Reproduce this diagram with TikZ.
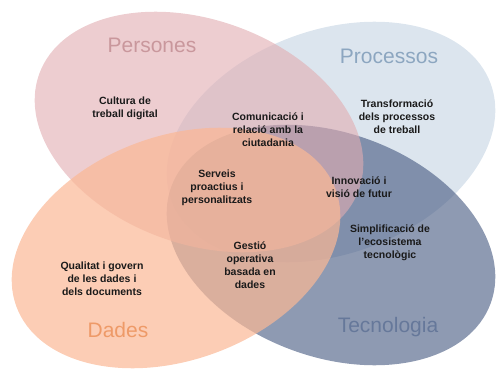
\documentclass[tikz,border=0pt]{standalone}
\usepackage{fontspec}
\setmainfont{Liberation Sans}
\definecolor{perscol}{RGB}{225,172,177}
\definecolor{proccol}{RGB}{197,212,227}
\definecolor{dadecol}{RGB}{251,184,149}
\definecolor{tecncol}{RGB}{67,87,127}
\definecolor{persink}{HTML}{C9979C}
\definecolor{procink}{HTML}{8CA6C0}
\definecolor{dadeink}{HTML}{EE9A68}
\definecolor{tecnink}{HTML}{66789A}
\definecolor{ink}{HTML}{1A1A1A}
\begin{document}
\begin{tikzpicture}[x=1pt,y=-1pt,
    blob/.style={fill opacity=0.6},
    title/.style={font=\fontsize{21}{24}\selectfont},
    lbl/.style={font=\fontsize{10.5}{13}\selectfont\bfseries,color=ink,align=center}]
  \useasboundingbox (0,0) rectangle (499,372);
  % four tilted sets, drawn bottom to top
  \fill[proccol,blob] (331,142) ellipse [x radius=170pt,y radius=112pt,rotate=20];
  \fill[tecncol,blob] (331,245) ellipse [x radius=170pt,y radius=112pt,rotate=-20];
  \fill[perscol,blob] (199,132) ellipse [x radius=170pt,y radius=112pt,rotate=-20];
  \fill[dadecol,blob,fill opacity=0.7] (176,248) ellipse [x radius=170pt,y radius=112pt,rotate=20];
  % set titles
  \node[title,color=persink] (persones) at (152,45) {Persones};
  \node[title,color=procink] (processos) at (389,56) {Processos};
  \node[title,color=dadeink] (dades) at (118,330) {Dades};
  \node[title,color=tecnink] (tecnologia) at (388,327) {Tecnologia};
  % areas
  \node[lbl] (cultura) at (125,108) {Cultura de\\treball digital};
  \node[lbl] (comunicacio) at (268,130) {Comunicació i\\relació amb la\\ciutadania};
  \node[lbl] (transformacio) at (397,117) {Transformació\\dels processos\\de treball};
  \node[lbl] (serveis) at (217,188) {Serveis\\proactius i\\personalitzats};
  \node[lbl] (innovacio) at (359,187) {Innovació i\\visió de futur};
  \node[lbl] (simplificacio) at (390,243) {Simplificació de\\l'ecosistema\\tecnològic};
  \node[lbl] (gestio) at (250,265) {Gestió\\operativa\\basada en\\dades};
  \node[lbl] (qualitat) at (102,279) {Qualitat i govern\\de les dades i\\dels documents};
\end{tikzpicture}
\end{document}
